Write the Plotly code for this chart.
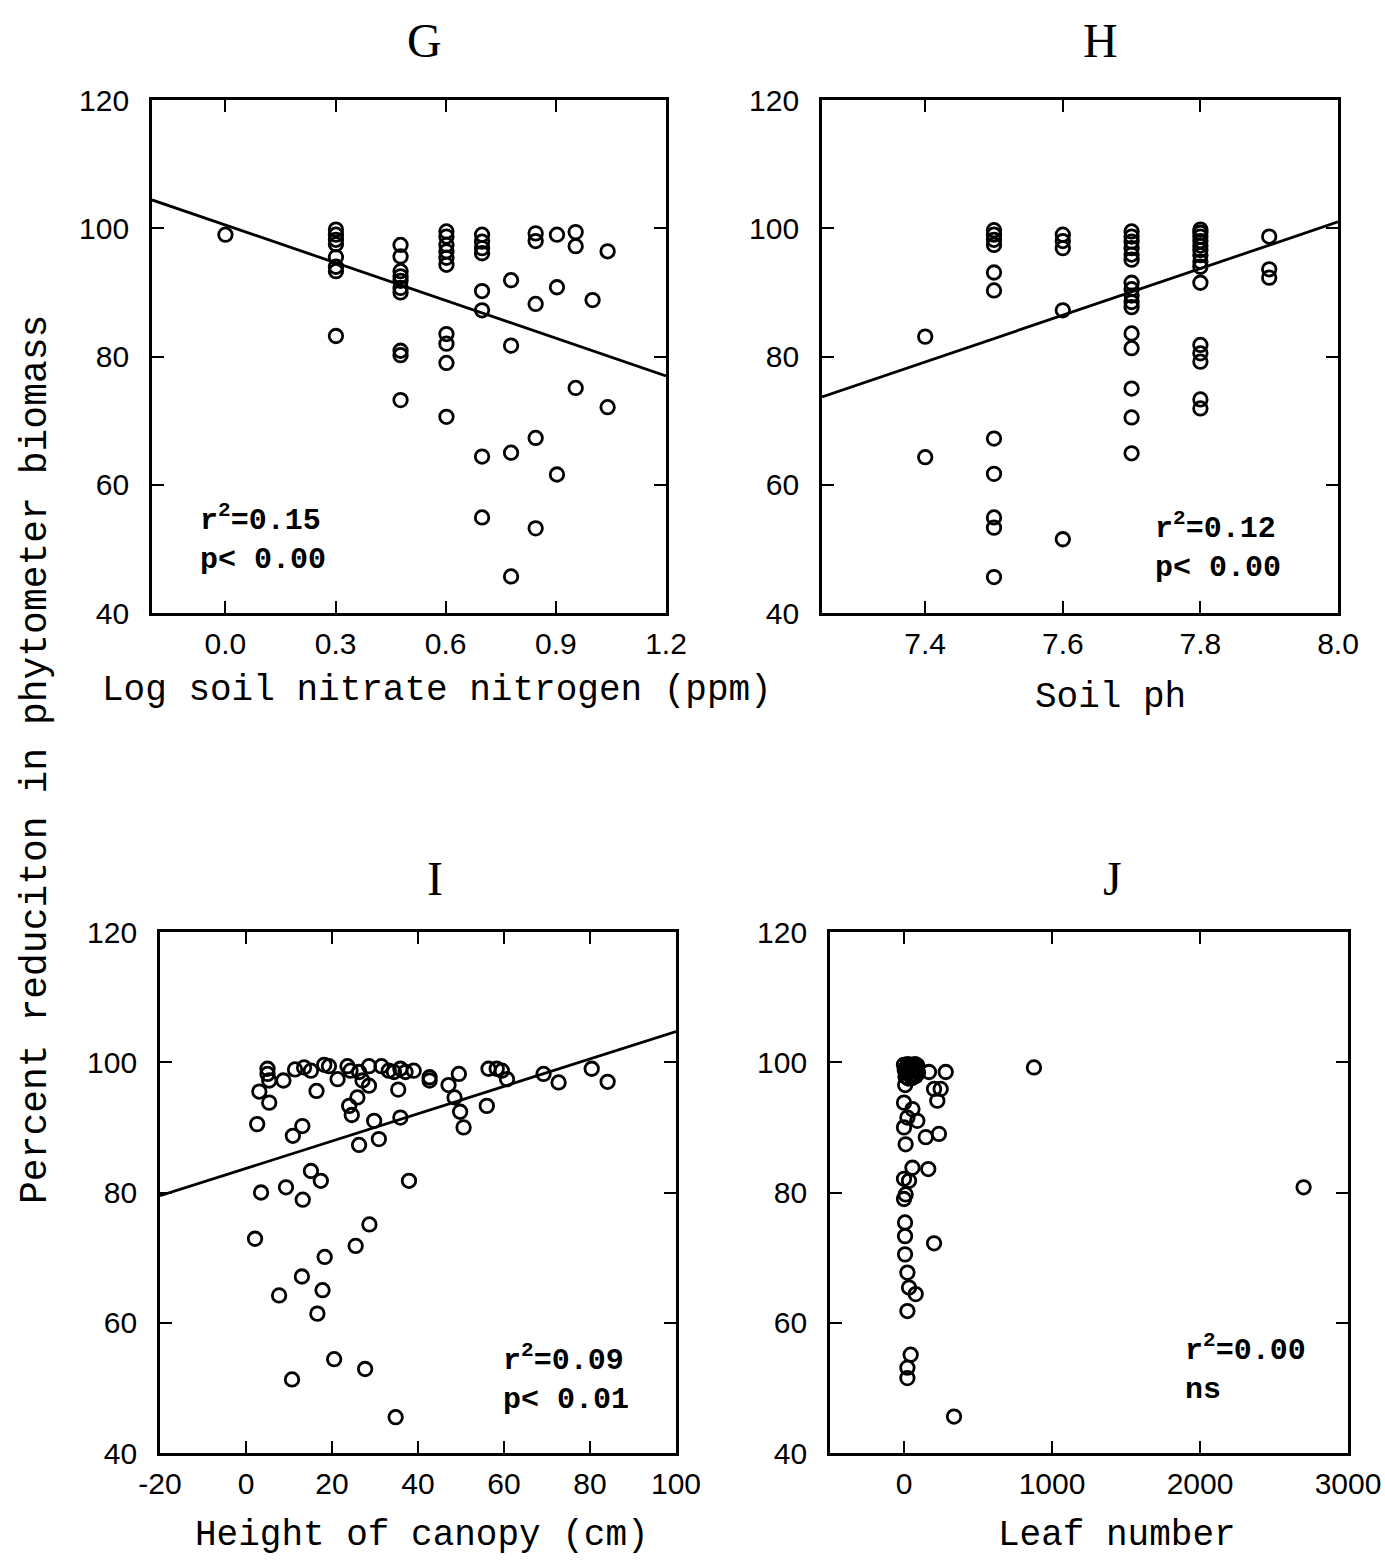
import numpy as np
import plotly.graph_objects as go

W, H = 1385, 1562

# ---------------- data ----------------
# G: log soil nitrate nitrogen (ppm)
g_x = [0.0,
       0.301, 0.301, 0.301, 0.301, 0.301, 0.301, 0.301, 0.301,
       0.477, 0.477, 0.477, 0.477, 0.477, 0.477, 0.477, 0.477, 0.477, 0.477,
       0.602, 0.602, 0.602, 0.602, 0.602, 0.602, 0.602, 0.602, 0.602, 0.602,
       0.699, 0.699, 0.699, 0.699, 0.699, 0.699, 0.699, 0.699,
       0.778, 0.778, 0.778, 0.778,
       0.845, 0.845, 0.845, 0.845, 0.845,
       0.903, 0.903, 0.903,
       0.954, 0.954, 0.954,
       1.0,
       1.041, 1.041]
g_y = [99.0,
       99.8, 99.0, 98.2, 97.5, 95.5, 94.0, 93.3, 83.2,
       97.4, 95.6, 93.3, 92.5, 91.8, 90.7, 90.0, 80.9, 80.2, 73.2, 70.6,
       99.5, 98.7, 97.4, 96.4, 95.4, 94.3, 83.5, 82.0, 79.0, 64.4,
       99.0, 97.9, 96.9, 96.1, 90.2, 87.2, 54.9, 45.7,
       91.9, 81.7, 65.0, 53.2,
       99.2, 98.0, 88.2, 67.3, 61.6,
       99.0, 90.8, 75.1,
       99.4, 97.2, 88.8,
       96.4,
       72.1, 51.6]

# H: soil pH
h_x = [7.4, 7.4,
       7.5, 7.5, 7.5, 7.5, 7.5, 7.5, 7.5, 7.5, 7.5, 7.5, 7.5,
       7.6, 7.6, 7.6, 7.6, 7.6,
       7.7, 7.7, 7.7, 7.7, 7.7, 7.7, 7.7, 7.7, 7.7, 7.7, 7.7, 7.7, 7.7, 7.7, 7.7, 7.7,
       7.8, 7.8, 7.8, 7.8, 7.8, 7.8, 7.8, 7.8, 7.8, 7.8, 7.8, 7.8, 7.8, 7.8, 7.8,
       7.9, 7.9, 7.9]
h_y = [83.1, 64.3,
       99.7, 99.0, 98.2, 97.4, 93.1, 90.3, 67.2, 61.7, 54.9, 53.3, 45.6,
       99.0, 98.0, 96.9, 87.2, 51.5,
       99.5, 98.7, 97.9, 96.9, 95.9, 95.1, 91.5, 90.5, 89.5, 88.5, 87.7, 83.6, 81.3, 75.0, 70.5, 64.9,
       99.8, 99.3, 98.7, 98.0, 97.3, 96.6, 95.8, 94.8, 94.0, 91.5, 81.8, 80.5, 79.2, 73.3, 71.9,
       98.7, 93.6, 92.3]

# I: height of canopy (cm)
i_x = [5.0, 5.0, 5.4, 3.1, 5.4, 2.6, 8.7, 11.4, 13.5, 15.1,
       16.4, 18.2, 19.3, 21.3, 23.6, 24.3, 26.3, 27.1, 28.6, 28.6,
       25.9, 24.0, 24.6, 31.5, 33.2, 34.4, 35.9, 37.1, 39.0, 35.4,
       42.7, 42.7, 35.9, 29.8, 26.3, 30.9, 13.1, 10.9, 47.1, 49.5,
       48.5, 49.8, 50.6, 56.0, 56.4, 58.3, 59.5, 60.7, 69.2, 72.7,
       80.4, 84.1, 15.1, 17.4, 9.3, 3.5, 13.2, 37.9, 28.7,
       2.1, 25.5, 18.3, 13.0, 17.8, 7.7, 16.6, 20.5, 27.7, 10.7, 34.8]
i_y = [99.0, 98.2, 97.2, 95.5, 93.8, 90.5, 97.2, 98.9, 99.2, 98.7,
       95.6, 99.6, 99.4, 97.4, 99.4, 98.7, 98.5, 97.2, 96.4, 99.4,
       94.6, 93.3, 91.9, 99.4, 98.7, 98.5, 99.0, 98.5, 98.7, 95.8,
       97.7, 97.2, 91.5, 91.0, 87.3, 88.2, 90.2, 88.7, 96.5, 98.2,
       94.6, 92.4, 90.0, 93.3, 99.0, 99.0, 98.7, 97.4, 98.2, 96.9,
       99.0, 97.0, 83.3, 81.8, 80.8, 80.0, 78.9, 81.8, 75.1,
       72.9, 71.8, 70.1, 67.1, 65.0, 64.2, 61.4, 54.4, 52.9, 51.3, 45.5]

# J: leaf number
j_x = [0, 5, 10, 15, 20, 25, 30, 35, 40, 45, 50, 55, 60, 65, 70, 75, 80, 85, 90, 95, 8,
       169, 282, 248, 203, 225, 0, 57, 23, 90, 0, 147, 236, 11, 57, 164, 0, 34,
       11, 0, 7, 7, 7, 203, 23, 34, 79, 23, 45, 23, 23, 338, 878, 2700]
j_y = [99.6, 98.8, 97.8, 99.2, 98.3, 99.7, 97.5, 98.9, 99.4, 98.0, 99.6, 97.6, 98.7,
       99.3, 98.1, 99.7, 97.9, 98.9, 99.5, 98.4, 96.5,
       98.5, 98.5, 95.9, 95.9, 94.1, 93.8, 92.8, 91.5, 91.0, 90.0, 88.5, 89.0, 87.4,
       83.8, 83.6, 82.1, 81.8, 79.7, 79.0, 75.4, 73.3, 70.5, 72.2, 67.7, 65.4, 64.4,
       61.8, 55.1, 53.1, 51.5, 45.6, 99.2, 80.8]

# fitted regression lines: (intercept, slope)
g_fit = (100.5, -19.6)
h_fit = (-190.2, 36.4)
i_fit = (83.7, 0.21)

panel_titles = ["G", "H", "I", "J"]
x_titles = ["Log soil nitrate nitrogen (ppm)", "Soil ph",
            "Height of canopy (cm)", "Leaf number"]
y_title = "Percent reduciton in phytometer biomass"
stats = ["r<sup>2</sup>=0.15<br>p< 0.00", "r<sup>2</sup>=0.12<br>p< 0.00",
         "r<sup>2</sup>=0.09<br>p< 0.01", "r<sup>2</sup>=0.00<br>ns"]

x_ranges = [[-0.2, 1.2], [7.25, 8.0], [-20, 100], [-500, 3000]]
x_ticks = [[0.0, 0.3, 0.6, 0.9, 1.2], [7.4, 7.6, 7.8, 8.0],
           [-20, 0, 20, 40, 60, 80, 100], [0, 1000, 2000, 3000]]
x_ticktext = [["0.0", "0.3", "0.6", "0.9", "1.2"], ["7.4", "7.6", "7.8", "8.0"],
              ["-20", "0", "20", "40", "60", "80", "100"],
              ["0", "1000", "2000", "3000"]]
y_ticks = [40, 60, 80, 100, 120]

# ---------------- layout geometry (pixels) ----------------
boxes = [(152, 666, 100, 613), (822, 1338, 100, 613),
         (160, 676, 932, 1453), (830, 1348, 932, 1453)]


def xdom(a, b):
    return [a / W, b / W]


def ydom(top, bot):
    return [1 - bot / H, 1 - top / H]


def px(x, y):
    return dict(x=x / W, y=1 - y / H, xref="paper", yref="paper")


fig = go.Figure()

tick_font = dict(family="Liberation Sans", size=30, color="black")
mono = "Liberation Mono"
serif = "Liberation Serif"

xs = [g_x, h_x, i_x, j_x]
ys = [g_y, h_y, i_y, j_y]
fits = [g_fit, h_fit, i_fit, None]

for k in range(4):
    n = "" if k == 0 else str(k + 1)
    xa, ya = "x" + n, "y" + n
    fig.add_trace(go.Scatter(
        x=xs[k], y=ys[k], mode="markers", xaxis=xa, yaxis=ya,
        marker=dict(symbol="circle-open", size=13.5, color="black",
                    line=dict(width=2.8)),
        showlegend=False, hoverinfo="x+y"))
    if fits[k] is not None:
        b0, b1 = fits[k]
        lx = np.array(x_ranges[k], dtype=float)
        fig.add_trace(go.Scatter(
            x=lx, y=b0 + b1 * lx, mode="lines", xaxis=xa, yaxis=ya,
            line=dict(color="black", width=2.8), showlegend=False,
            hoverinfo="skip"))

    l, r, t, b = boxes[k]
    axis_common = dict(showline=True, linecolor="black", linewidth=2.8,
                       mirror="ticks", ticks="inside", ticklen=12,
                       tickwidth=2, tickcolor="black", showgrid=False,
                       zeroline=False, tickfont=tick_font, automargin=False)
    fig.layout["xaxis" + n] = dict(
        domain=xdom(l, r), range=x_ranges[k], tickvals=x_ticks[k],
        ticktext=x_ticktext[k], anchor=ya, ticklabelstandoff=2,
        **axis_common)
    fig.layout["yaxis" + n] = dict(
        domain=ydom(t, b), range=[40, 120], tickvals=y_ticks,
        anchor=xa, ticklabelstandoff=14, **axis_common)

annotations = []
title_pos = [(425, 40), (1100, 40), (435, 878), (1112, 878)]
xtitle_pos = [(437, 690), (1110, 697), (422, 1535), (1117, 1535)]
stat_pos = [(198, 538), (1153, 546), (501, 1378), (1183, 1368)]

for k in range(4):
    tx, ty = title_pos[k]
    annotations.append(dict(**px(tx, ty), text=panel_titles[k], showarrow=False,
                            xanchor="center", yanchor="middle",
                            font=dict(family=serif, size=48, color="black")))
    ax_, ay_ = xtitle_pos[k]
    annotations.append(dict(**px(ax_, ay_), text=x_titles[k], showarrow=False,
                            xanchor="center", yanchor="middle",
                            font=dict(family=mono, size=36, color="black")))
    sx, sy = stat_pos[k]
    annotations.append(dict(**px(sx, sy), text=stats[k], showarrow=False,
                            align="left", xanchor="left", yanchor="middle",
                            font=dict(family=mono, size=30, color="black",
                                      weight="bold")))

annotations.append(dict(**px(35, 760), text=y_title, showarrow=False,
                        textangle=-90, xanchor="center", yanchor="middle",
                        font=dict(family=mono, size=38, color="black")))

fig.update_layout(width=W, height=H, margin=dict(l=0, r=0, t=0, b=0),
                  paper_bgcolor="white", plot_bgcolor="white",
                  annotations=annotations)

fig.write_html("out.html")
